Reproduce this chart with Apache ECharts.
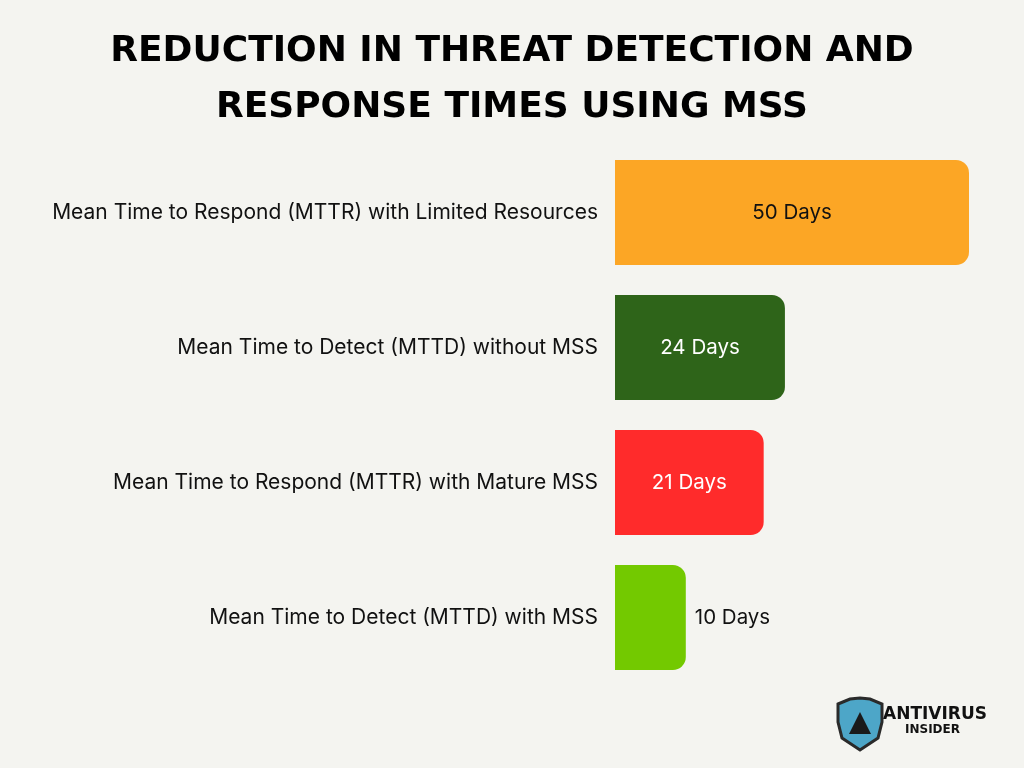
<!DOCTYPE html>
<html><head><meta charset="utf-8">
<script src="https://cdn.jsdelivr.net/npm/echarts@6/dist/echarts.min.js"></script>
<style>html,body{margin:0;padding:0;background:#f4f4f0;}#c{width:1024px;height:768px;}</style>
</head><body><div id="c"></div>
<script>
const categories = [
  "Mean Time to Respond (MTTR) with Limited Resources",
  "Mean Time to Detect (MTTD) without MSS",
  "Mean Time to Respond (MTTR) with Mature MSS",
  "Mean Time to Detect (MTTD) with MSS"
];
const values = [50, 24, 21, 10];
const barColors = ["#FCA625", "#2E6419", "#FF2B2B", "#73C900"];
const labelColors = ["#111111", "#ffffff", "#ffffff", "#111111"];
const labelInside = [true, true, true, false];
const titleText = "REDUCTION IN THREAT DETECTION AND\nRESPONSE TIMES USING MSS";

const chart = echarts.init(document.getElementById('c'));
chart.setOption({
  backgroundColor: '#f4f4f0',
  title: {
    text: titleText,
    left: 'center', top: 19,
    textStyle: { fontFamily: 'DejaVu Sans', fontWeight: 'bold', fontSize: 36, lineHeight: 56, color: '#000' }
  },
  grid: { left: 615, right: 55, top: 145, bottom: 83, containLabel: false },
  xAxis: { type: 'value', min: 0, max: 50, show: false },
  yAxis: {
    type: 'category', data: categories, inverse: true,
    axisLine: { show: false }, axisTick: { show: false },
    axisLabel: { margin: 17, fontFamily: 'Inter', fontSize: 21, color: '#111' }
  },
  series: [{
    type: 'bar', barWidth: 105,
    data: values.map((v, i) => ({
      value: v,
      itemStyle: { color: barColors[i], borderRadius: [0, 13, 13, 0] },
      label: {
        show: true,
        position: labelInside[i] ? 'inside' : 'right',
        distance: 9,
        color: labelColors[i],
        formatter: '{c} Days',
        fontFamily: 'Inter', fontSize: 20.5
      }
    }))
  }],
  graphic: [
    { type: 'polygon', shape: { points: [[838,704],[850,699],[860,698],[870,699],[882,704],[882,722],[878,738],[860,750],[842,738],[838,722]] },
      style: { fill: '#4da6c8', stroke: '#2a2a2a', lineWidth: 3 } },
    { type: 'polygon', shape: { points: [[860,712],[849,734],[871,734]] }, style: { fill: '#1a1a1a' } },
    { type: 'text', left: 883, top: 706, style: { text: 'ANTIVIRUS', fontFamily: 'DejaVu Sans', fontWeight: 'bold', fontSize: 17, fill: '#111' } },
    { type: 'text', left: 905, top: 724, style: { text: 'INSIDER', fontFamily: 'DejaVu Sans', fontWeight: 'bold', fontSize: 12, fill: '#111' } }
  ]
});
</script></body></html>
